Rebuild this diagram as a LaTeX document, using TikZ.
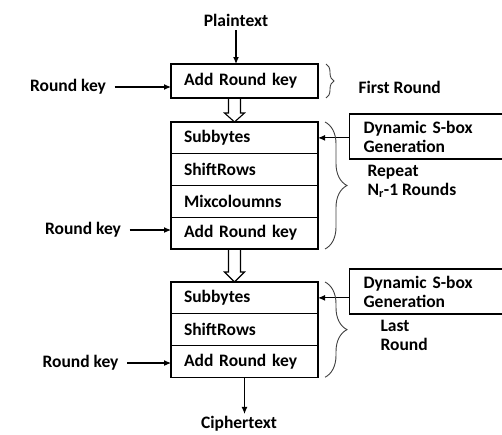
\documentclass[tikz,border=0pt]{standalone}
\usepackage{fontspec}
\setmainfont{Carlito}
\usepackage{tikz}
\usetikzlibrary{shapes,arrows,arrows.meta,positioning,calc,decorations.pathreplacing}
\tikzstyle{row} = [draw, rectangle, line width=1.1pt, minimum height=31.75pt,
    text width=121pt, inner xsep=13pt, inner ysep=0pt, align=left, outer sep=0pt]
\tikzstyle{sbox} = [draw, rectangle, line width=1.1pt, minimum height=45pt,
    text width=130pt, inner xsep=14pt, align=left, anchor=west]
\tikzstyle{txt} = [inner xsep=8pt, align=left]
\tikzstyle{bracket} = [decorate, line width=0.9pt, black!75]
\tikzstyle{hollow} = [line width=1.1pt, line join=miter]

\begin{document}
\begin{tikzpicture}[x=1pt, y=-1pt, >={Latex[length=7pt,width=6pt]}, line width=1.1pt,
    font=\fontsize{17.5}{19}\bfseries\selectfont]
    \useasboundingbox (0,0) rectangle (502,434);
    \clip (0,0) rectangle (502,434);
    \coordinate (col) at (234.5,0);
    % We start with the first round
    \node [txt] (plain) at (236,20) {Plaintext};
    \node [row, minimum height=34pt] (first) at (244.5,81) {Add Round key};
    \node [txt] (rk1) at (68,87) {Round key};
    \node [txt, anchor=west] (firstlbl) at (350,87) {First Round};
    % Then the repeated rounds
    \node [row, below=24pt of first] (sub2) {Subbytes};
    \node [row, below=0pt of sub2] (shift2) {ShiftRows};
    \node [row, below=0pt of shift2] (mix2) {Mixcoloumns};
    \node [row, below=0pt of mix2] (add2) {Add Round key};
    \node [sbox] (sbox1) at (349,136.5) {Dynamic S-box\\Generation};
    \node [txt] (rk2) at (83,230) {Round key};
    \node [txt, anchor=west] (repeatlbl) at (359,181.5) {Repeat\\N\textsubscript{r}-1 Rounds};
    % And the last round
    \node [row, below=33pt of add2] (sub3) {Subbytes};
    \node [row, below=0pt of sub3] (shift3) {ShiftRows};
    \node [row, below=0pt of shift3] (add3) {Add Round key};
    \node [sbox] (sbox2) at (349,291.5) {Dynamic S-box\\Generation};
    \node [txt] (rk3) at (80.5,363) {Round key};
    \node [txt, anchor=west] (lastlbl) at (372,335.5) {Last\\Round};
    \node [txt, inner ysep=2pt] (cipher) at (239,424) {Ciphertext};
    % We draw the arrows between the nodes
    \draw [->] (plain.south) -- (plain.south |- first.north);
    \draw [->] (rk1.east) -- (rk1.east -| first.west);
    \draw [->] (rk2.east) -- (rk2.east -| add2.west);
    \draw [->] (rk3.east) -- (rk3.east -| add3.west);
    \draw [->] (sbox1.west |- sub2.east) -- (sub2.east);
    \draw [->] (sbox2.west |- sub3.east) -- (sub3.east);
    \draw [->] (add3.south) -- (add3.south |- cipher.north);
    % Hollow arrows from one round to the next
    \draw [hollow] ($(first.south -| col)+(-6,0)$) -- ($(sub2.north -| col)+(-6,-9)$)
        -- ++(-4,0) -- (sub2.north -| col) -- ++(10,-9) -- ++(-4,0)
        -- ($(first.south -| col)+(6,0)$);
    \draw [hollow] ($(add2.south -| col)+(-6,0)$) -- ($(sub3.north -| col)+(-6,-10)$)
        -- ++(-4,0) -- (sub3.north -| col) -- ++(10,-10) -- ++(-4,0)
        -- ($(add2.south -| col)+(6,0)$);
    % Braces for the rounds
    \draw [bracket, decoration={brace, amplitude=8pt}]
        ([xshift=8pt]first.north east) -- ([xshift=8pt]first.south east);
    \draw [bracket, decoration={brace, amplitude=22pt}]
        ([xshift=7pt]sub2.north east) -- ([xshift=7pt]add2.south east);
    \draw [bracket, decoration={brace, amplitude=22pt}]
        ([xshift=7pt]sub3.north east) -- ([xshift=7pt]add3.south east);
\end{tikzpicture}
\end{document}
